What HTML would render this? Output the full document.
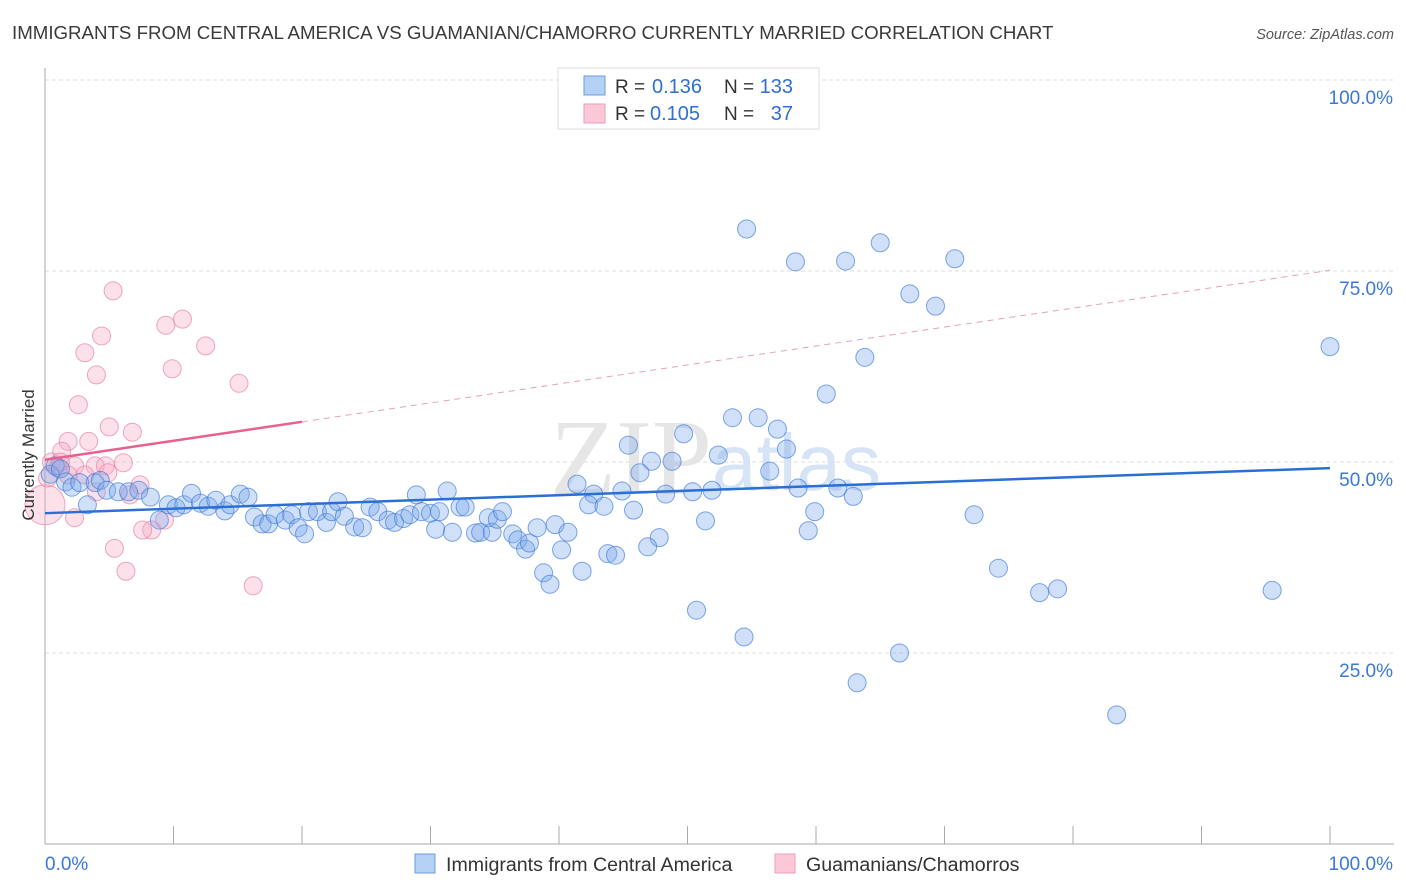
<!DOCTYPE html>
<html><head><meta charset="utf-8"><style>
body{margin:0;background:#fff;font-family:"Liberation Sans",sans-serif;}
#wrap{position:relative;width:1406px;height:892px;overflow:hidden;}
</style></head><body>
<div id="wrap">
<svg id="svg" width="1406" height="892" xmlns="http://www.w3.org/2000/svg">
<text x="12" y="39" font-size="18.7" fill="#3a3a3a">IMMIGRANTS FROM CENTRAL AMERICA VS GUAMANIAN/CHAMORRO CURRENTLY MARRIED CORRELATION CHART</text>
<text x="1394" y="39" font-size="14.5" font-style="italic" fill="#555" text-anchor="end">Source: ZipAtlas.com</text>
<g id="grid"></g>
<text x="712" y="494" font-size="108" font-family="Liberation Serif,serif" fill="#e6e6e6" text-anchor="end">ZIP</text>
<text x="712" y="490" font-size="80" fill="#d6e4f6">atlas</text>
<g id="axes"></g>
<g id="pts"></g>
<g id="trend"></g>
<text transform="translate(34,455) rotate(-90)" font-size="17" fill="#333" text-anchor="middle">Currently Married</text>
<g>
<rect x="558" y="68" width="261" height="61" fill="#fff" stroke="#ddd"/>
<rect x="584" y="76" width="21" height="19" fill="#b5d0f5" stroke="#6a9ce0"/>
<rect x="584" y="104" width="21" height="19" fill="#fcc8d8" stroke="#ee9cb8"/>
<text x="615" y="93" font-size="19" fill="#333">R =</text>
<text x="652" y="93" font-size="20" fill="#2f6fd0">0.136</text>
<text x="724" y="93" font-size="19" fill="#333">N =</text>
<text x="793" y="93" font-size="20" fill="#2f6fd0" text-anchor="end">133</text>
<text x="615" y="120" font-size="19" fill="#333">R =</text>
<text x="650" y="120" font-size="20" fill="#2f6fd0">0.105</text>
<text x="724" y="120" font-size="19" fill="#333">N =</text>
<text x="793" y="120" font-size="20" fill="#2f6fd0" text-anchor="end">37</text>
</g>
<g>
<rect x="415" y="854" width="20" height="19" fill="#b5d0f5" stroke="#6a9ce0"/>
<text x="446" y="871" font-size="19.6" fill="#333">Immigrants from Central America</text>
<rect x="775" y="854" width="20" height="19" fill="#fcc8d8" stroke="#ee9cb8"/>
<text x="806" y="871" font-size="19.6" fill="#333">Guamanians/Chamorros</text>
</g>
</svg>
</div>
<script>
const blueX=[54.6,58.4,62.3,65.0,70.8,67.3,69.3,63.8,100,60.8,53.5,55.5,57.0,49.7,45.4,57.7,52.4,47.2,48.8,46.3,56.4,41.4,58.6,61.7,62.9,42.7,44.9,48.3,50.4,51.9,42.3,43.5,45.8,51.4,59.9,72.3,59.4,47.8,46.9,40.2,43.8,44.4,38.8,41.8,39.3,74.2,77.4,78.8,95.5,50.7,54.4,66.5,63.2,83.4,
0.4,0.8,1.2,1.6,2.1,2.7,3.3,3.9,4.3,4.8,5.7,6.5,7.3,8.2,8.9,9.6,10.2,10.8,11.4,12.1,12.7,13.3,14.0,14.4,15.2,15.8,16.3,16.9,17.4,17.9,18.7,19.2,19.7,20.2,20.5,21.2,21.9,22.3,22.8,23.3,24.1,24.7,25.3,25.9,26.7,27.2,27.9,28.4,28.9,29.3,30.0,30.4,30.7,31.3,31.7,32.3,32.7,33.5,33.9,34.5,34.8,35.2,35.6,36.4,36.8,37.4,37.7,38.3,39.7,40.7];
const blueY=[80.5,76.2,76.3,78.7,76.6,72.0,70.4,63.7,65.1,58.9,55.8,55.8,54.3,53.7,52.2,51.7,50.9,50.1,50.1,48.6,48.8,47.1,46.6,46.6,45.5,45.8,46.2,45.8,46.1,46.3,44.4,44.2,43.7,42.3,43.5,43.1,41.0,40.1,38.9,38.5,38.0,37.8,35.5,35.7,34.0,36.1,32.9,33.4,33.2,30.6,27.1,25.0,21.1,16.9,
48.4,49.5,49.1,47.4,46.7,47.3,44.4,47.3,47.6,46.3,46.1,46.1,46.3,45.4,42.4,44.4,44.0,44.4,45.9,44.6,44.2,45.0,43.6,44.4,45.8,45.4,42.8,41.9,41.9,43.1,42.4,43.1,41.4,40.6,43.5,43.5,42.1,43.5,44.8,42.9,41.5,41.4,44.1,43.5,42.4,42.1,42.6,43.1,45.7,43.5,43.3,41.2,43.5,46.2,40.8,44.1,44.1,40.7,40.8,42.7,40.8,42.5,43.5,40.6,39.8,38.6,39.4,41.4,41.8,40.8];
const pinkX=[5.3,10.7,4.4,9.4,12.5,3.1,9.9,4.0,15.1,2.6,5.0,6.8,1.8,3.4,1.3,0.5,1.0,2.3,3.9,4.7,6.1,1.8,4.9,7.4,6.6,4.0,2.3,9.3,8.3,7.6,5.4,6.3,16.2,0,0.2,1.2,3.1];
const pinkY=[72.4,68.7,66.5,67.9,65.2,64.3,62.2,61.4,60.3,57.5,54.6,53.9,52.7,52.7,51.4,50.0,49.2,49.5,49.5,49.5,49.9,48.3,48.6,47.0,45.7,46.1,42.7,42.4,41.1,41.1,38.7,35.7,33.8,44.4,47.9,50.0,48.3];
const pinkR=[9,9,9,9,9,9,9,9,9,9,9,9,9,9,9,9,9,9,9,9,9,9,9,9,9,9,9,9,9,9,9,9,9,20,9,9,9];
const yTicks=[25,50,75,100];
const yTickLabels=["25.0%","50.0%","75.0%","100.0%"];
const blueTrend=[43.3,49.2];
const pinkTrend=[50.3,75.1];
const pinkSolidEnd=20;
const NS="http://www.w3.org/2000/svg";
const X=v=>45+v*12.85, Y=v=>844-v*7.64;
function mk(t,a,p){const e=document.createElementNS(NS,t);for(const k in a)e.setAttribute(k,a[k]);p.appendChild(e);return e;}
const grid=document.getElementById('grid'),axes=document.getElementById('axes'),pts=document.getElementById('pts'),tr=document.getElementById('trend');
yTicks.forEach((v,i)=>{
 const l=mk('line',{x1:45,x2:1394,y1:Y(v),y2:Y(v),stroke:'#ddd','stroke-dasharray':'4,3'},grid);
 
 
 const t=mk('text',{x:1393,y:Y(v)+24,'font-size':19,fill:'#3a78d8','text-anchor':'end'},axes);
 t.textContent=yTickLabels[i];
 
 
});
let a=mk('line',{x1:45,x2:45,y1:68,y2:844,stroke:'#aaa'},axes);


a=mk('line',{x1:45,x2:1394,y1:844,y2:844,stroke:'#aaa'},axes);


for(let i=0;i<=10;i++){const t=mk('line',{x1:X(i*10),x2:X(i*10),y1:826,y2:844,stroke:'#aaa'},axes);
 
 }
let t=mk('text',{x:45,y:870,'font-size':19,fill:'#3a78d8'},axes);t.textContent='0.0%';


t=mk('text',{x:1393,y:870,'font-size':19,fill:'#3a78d8','text-anchor':'end'},axes);t.textContent='100.0%';


pinkX.forEach((v,i)=>{const c=mk('circle',{cx:X(v),cy:Y(pinkY[i]),r:pinkR[i],fill:'rgba(246,170,195,0.35)',stroke:'rgba(232,130,165,0.7)','stroke-width':1},pts);
 
 });
blueX.forEach((v,i)=>{const c=mk('circle',{cx:X(v),cy:Y(blueY[i]),r:9,fill:'rgba(120,165,235,0.35)',stroke:'rgba(60,120,215,0.65)','stroke-width':1},pts);
 
 });
let l=mk('line',{x1:X(0),y1:Y(blueTrend[0]),x2:X(100),y2:Y(blueTrend[1]),stroke:'#2a6fd6','stroke-width':2.5},tr);


const pe=pinkTrend[0]+(pinkTrend[1]-pinkTrend[0])*pinkSolidEnd/100;
l=mk('line',{x1:X(0),y1:Y(pinkTrend[0]),x2:X(pinkSolidEnd),y2:Y(pe),stroke:'#e8608f','stroke-width':2.5},tr);


l=mk('line',{x1:X(pinkSolidEnd),y1:Y(pe),x2:X(100),y2:Y(pinkTrend[1]),stroke:'#e8a0b8','stroke-width':1,'stroke-dasharray':'6,5'},tr);


</script>
</body></html>
